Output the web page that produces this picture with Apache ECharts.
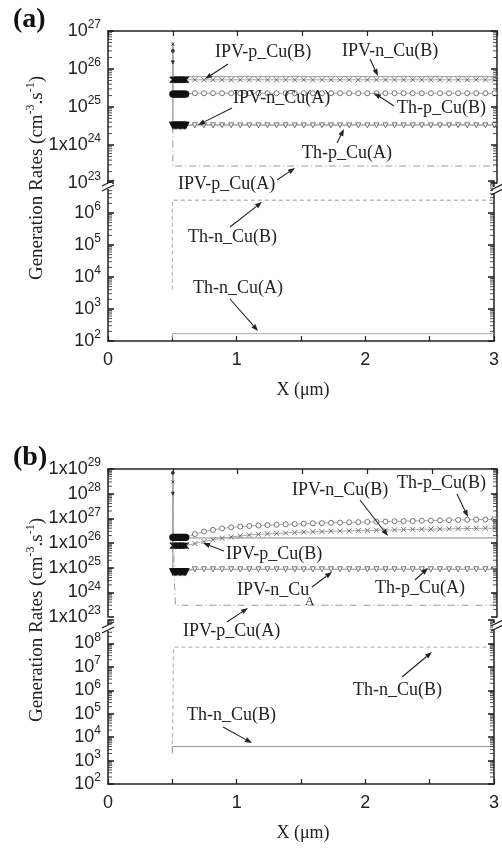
<!DOCTYPE html>
<html><head><meta charset="utf-8">
<script src="https://cdn.jsdelivr.net/npm/echarts@6.0.0/dist/echarts.min.js"></script>
<style>html,body{margin:0;padding:0;background:#fff}#c{width:502px;height:848px}</style>
</head><body><div id="c"></div>
<script>
// ---------------- DATA ----------------
// shared sample positions (µm) of the marker curves
const xMark = [0.5, 0.5, 0.51, 0.52, 0.53, 0.54, 0.55, 0.56, 0.57, 0.58, 0.59, 0.6,
  0.67, 0.74, 0.81, 0.88, 0.95, 1.02, 1.09, 1.16, 1.23, 1.3, 1.37, 1.44, 1.51, 1.58, 1.65,
  1.72, 1.79, 1.86, 1.93, 2.0, 2.07, 2.14, 2.21, 2.28, 2.35, 2.42, 2.49, 2.56, 2.63, 2.7,
  2.77, 2.84, 2.91, 2.98];

// panel (a)
const aIpvPB = [4.5e26, 5.2e25, 5.2e25, 5.2e25, 5.2e25, 5.2e25, 5.2e25, 5.2e25, 5.2e25, 5.2e25, 5.2e25, 5.2e25,
  5.2e25, 5.2e25, 5.2e25, 5.2e25, 5.2e25, 5.2e25, 5.2e25, 5.2e25, 5.2e25, 5.2e25, 5.2e25, 5.2e25, 5.2e25, 5.2e25, 5.2e25,
  5.2e25, 5.2e25, 5.2e25, 5.2e25, 5.2e25, 5.2e25, 5.2e25, 5.2e25, 5.2e25, 5.2e25, 5.2e25, 5.2e25, 5.2e25, 5.2e25, 5.2e25,
  5.2e25, 5.2e25, 5.2e25, 5.2e25];
const aThPB = [3e26, 2.2e25, 2.2e25, 2.2e25, 2.2e25, 2.2e25, 2.2e25, 2.2e25, 2.2e25, 2.2e25, 2.2e25, 2.2e25,
  2.3e25, 2.3e25, 2.3e25, 2.3e25, 2.3e25, 2.3e25, 2.3e25, 2.3e25, 2.3e25, 2.3e25, 2.3e25, 2.3e25, 2.3e25, 2.3e25, 2.3e25,
  2.3e25, 2.3e25, 2.3e25, 2.3e25, 2.3e25, 2.3e25, 2.3e25, 2.3e25, 2.3e25, 2.3e25, 2.3e25, 2.3e25, 2.3e25, 2.3e25, 2.3e25,
  2.3e25, 2.3e25, 2.3e25, 2.3e25];
const aThPA = [1.5e26, 3.3e24, 3.3e24, 3.3e24, 3.3e24, 3.3e24, 3.3e24, 3.3e24, 3.3e24, 3.3e24, 3.3e24, 3.3e24,
  3.3e24, 3.3e24, 3.3e24, 3.3e24, 3.3e24, 3.3e24, 3.3e24, 3.3e24, 3.3e24, 3.3e24, 3.3e24, 3.3e24, 3.3e24, 3.3e24, 3.3e24,
  3.3e24, 3.3e24, 3.3e24, 3.3e24, 3.3e24, 3.3e24, 3.3e24, 3.3e24, 3.3e24, 3.3e24, 3.3e24, 3.3e24, 3.3e24, 3.3e24, 3.3e24,
  3.3e24, 3.3e24, 3.3e24, 3.3e24];
const xLine = [0.5, 0.5, 3.0];
const aIpvNB = [5e26, 6.3e25, 6.3e25];
const aIpvNA = [5e26, 3.4e24, 3.4e24];
const aIpvPA = [5e26, 2.8e23, 2.8e23];
const aThNB = [4e3, 2.5e6, 2.5e6];
const aThNA = [1.2e2, 1.7e2, 1.7e2];

// panel (b)
const bThPB = [7e28, 1.7e26, 1.7e26, 1.7e26, 1.7e26, 1.7e26, 1.7e26, 1.7e26, 1.7e26, 1.7e26, 1.7e26, 1.7e26,
  2.3e26, 2.9e26, 3.4e26, 3.9e26, 4.3e26, 4.6e26, 4.9e26, 5.1e26, 5.3e26, 5.5e26, 5.7e26, 5.9e26, 6.1e26, 6.3e26, 6.4e26,
  6.6e26, 6.7e26, 6.9e26, 7.0e26, 7.2e26, 7.3e26, 7.4e26, 7.6e26, 7.7e26, 7.8e26, 8.0e26, 8.1e26, 8.3e26, 8.4e26, 8.6e26,
  8.7e26, 8.9e26, 9.0e26, 9.2e26];
const bIpvPB = [3e28, 7.8e25, 7.8e25, 7.8e25, 7.8e25, 7.8e25, 7.8e25, 7.8e25, 7.8e25, 7.8e25, 7.8e25, 7.8e25,
  9.5e25, 1.15e26, 1.35e26, 1.55e26, 1.75e26, 1.95e26, 2.1e26, 2.25e26, 2.35e26, 2.45e26, 2.55e26, 2.65e26, 2.75e26, 2.85e26, 2.9e26,
  3.0e26, 3.05e26, 3.1e26, 3.2e26, 3.25e26, 3.3e26, 3.35e26, 3.4e26, 3.5e26, 3.55e26, 3.6e26, 3.65e26, 3.7e26, 3.75e26, 3.8e26,
  3.85e26, 3.9e26, 3.95e26, 4.0e26];
const bThPA = [1e28, 6.8e24, 6.8e24, 6.8e24, 6.8e24, 6.8e24, 6.8e24, 6.8e24, 6.8e24, 6.8e24, 6.8e24, 6.8e24,
  8.6e24, 8.6e24, 8.6e24, 8.6e24, 8.6e24, 8.6e24, 8.6e24, 8.6e24, 8.6e24, 8.6e24, 8.6e24, 8.6e24, 8.6e24, 8.6e24, 8.6e24,
  8.6e24, 8.6e24, 8.6e24, 8.6e24, 8.6e24, 8.6e24, 8.6e24, 8.6e24, 8.6e24, 8.6e24, 8.6e24, 8.6e24, 8.6e24, 8.6e24, 8.6e24,
  8.6e24, 8.6e24, 8.6e24, 8.6e24];
const bIpvNB = [8e28, 1.6e26, 1.6e26];
const bIpvNA = [8e28, 8.6e24, 8.6e24];
const xIpvPAb = [0.5, 0.51, 0.52, 3.0];
const bIpvPA = [8e28, 5e24, 3e23, 3e23];
const xThNB1b = [0.5, 0.51, 3.0];
const bThNB1 = [2.5e3, 7e7, 7e7];
const bThNB2 = [2e3, 4e3, 4e3];

// tick labels: prefix per decade exponent
const aUpperTicks = {23: '10', 24: '1x10', 25: '10', 26: '10', 27: '10'};
const aLowerTicks = {2: '10', 3: '10', 4: '10', 5: '10', 6: '10'};
const bUpperTicks = {23: '1x10', 24: '10', 25: '1x10', 26: '1x10', 27: '1x10', 28: '10', 29: '1x10'};
const bLowerTicks = {2: '10', 3: '10', 4: '10', 5: '10', 6: '10', 7: '10', 8: '10'};
const xTicks = [0, 1, 2, 3];

// ---------------- CHART ----------------
const SANS = 'Liberation Sans, Arial, sans-serif';
const SERIF = 'Liberation Serif, Times New Roman, serif';
const AX = '#222';

const grids = [
  {left: 108, top: 31, width: 389, height: 152},
  {left: 108, top: 181, width: 389, height: 160},
  {left: 108, top: 469, width: 389, height: 148},
  {left: 108, top: 620, width: 389, height: 164}
];

function xAx(gi, top) {
  return {
    type: 'value', gridIndex: gi, min: 0, max: 3, interval: 0.5, position: top ? 'top' : 'bottom',
    axisLine: {show: true, onZero: false, lineStyle: {color: AX, width: 1.5}},
    axisTick: {show: true, inside: true, length: 5, lineStyle: {color: AX, width: 1.2}},
    axisLabel: {show: !top, fontFamily: SANS, fontSize: 18, color: AX, margin: 10,
      formatter: v => xTicks.indexOf(v) >= 0 ? String(v) : ''},
    splitLine: {show: false}
  };
}
function yAx(gi, min, max, ticks, right) {
  return {
    type: 'log', logBase: 10, gridIndex: gi, min: min, max: max, interval: 1,
    position: right ? 'right' : 'left',
    axisLine: {show: true, onZero: false, lineStyle: {color: AX, width: 1.5}},
    axisTick: {show: true, inside: true, length: 6, lineStyle: {color: AX, width: 1.6}},
    splitLine: {show: false},
    axisLabel: right ? {show: false} : {
      show: true, margin: 7,
      formatter: v => {
        const e = Math.round(Math.log10(v));
        const p = ticks[e];
        return p ? '{b|' + p + '}{s|' + e + '}' : '';
      },
      rich: {
        b: {fontFamily: SANS, fontSize: 18, color: AX, lineHeight: 24},
        s: {fontFamily: SANS, fontSize: 12, color: AX, lineHeight: 10, verticalAlign: 'top'}
      }
    }
  };
}

const xAxis = [xAx(0, true), xAx(1, false), xAx(2, true), xAx(3, false)];
const yRanges = [[23, 27], [2, 7], [23, 29], [2, 9]];
const yAxis = [
  yAx(0, 1e23, 1e27, aUpperTicks, false), yAx(0, 1e23, 1e27, aUpperTicks, true),
  yAx(1, 1e2, 1e7, aLowerTicks, false), yAx(1, 1e2, 1e7, aLowerTicks, true),
  yAx(2, 1e23, 1e29, bUpperTicks, false), yAx(2, 1e23, 1e29, bUpperTicks, true),
  yAx(3, 1e2, 1e9, bLowerTicks, false), yAx(3, 1e2, 1e9, bLowerTicks, true)
];

const SYM_X = 'path://M0 0L10 10M10 0L0 10';
const SYM_TRI = 'path://M0 0L10 0L5 9Z';

function pairs(xs, ys) { return xs.map((x, i) => [x, ys[i]]); }
function lineS(xi, yi, xs, ys, style) {
  return {type: 'line', xAxisIndex: xi, yAxisIndex: yi, data: pairs(xs, ys), showSymbol: false,
    symbol: 'none', lineStyle: Object.assign({color: '#9a9a9a', width: 1}, style), z: 2, silent: true};
}
function markS(xi, yi, xs, ys, sym, size) {
  const data = pairs(xs, ys).map((p, i) => {
    if (i === 0) return {value: p, symbolSize: 3, itemStyle: {color: '#333', borderColor: '#333'}};
    if (i <= 11) return {value: p, symbolSize: size + 1, itemStyle: {color: '#111', borderColor: '#111', borderWidth: 1.2}};
    return p;
  });
  return {type: 'line', xAxisIndex: xi, yAxisIndex: yi, data: data, showSymbol: true, showAllSymbol: true,
    symbol: sym, symbolSize: size,
    itemStyle: {color: sym === SYM_X ? 'rgba(0,0,0,0)' : '#fff', borderColor: '#666', borderWidth: 0.9},
    lineStyle: {color: '#aaa', width: 1}, z: 3, silent: true};
}
// minor log ticks (2..9 x 10^k) on both sides of each grid, placed through the axis scale
function minorS(gi, range, right) {
  const vals = [];
  for (let k = range[0]; k < range[1]; k++) for (let m = 2; m <= 9; m++) vals.push([right ? 3 : 0, m * Math.pow(10, k)]);
  return {type: 'scatter', xAxisIndex: gi, yAxisIndex: gi * 2, data: vals, silent: true, z: 6, clip: false,
    symbol: 'rect', symbolSize: [4, 1], symbolOffset: [right ? -2 : 2, 0],
    itemStyle: {color: AX}, animation: false};
}

const series = [
  // panel (a) upper
  lineS(0, 0, xLine, aIpvPA, {type: [7, 3, 1, 3], color: '#999'}),
  lineS(0, 0, xLine, aIpvNA, {color: '#aaa'}),
  lineS(0, 0, xLine, aIpvNB, {color: '#999'}),
  markS(0, 0, xMark, aThPA, SYM_TRI, 5),
  markS(0, 0, xMark, aThPB, 'circle', 5),
  markS(0, 0, xMark, aIpvPB, SYM_X, 5),
  // panel (a) lower
  lineS(1, 2, xLine, aThNB, {type: [4, 3], color: '#bbb', width: 1.3}),
  lineS(1, 2, xLine, aThNA, {color: '#aaa'}),
  // panel (b) upper
  lineS(2, 4, xIpvPAb, bIpvPA, {type: [7, 3, 1, 3], color: '#999'}),
  lineS(2, 4, xLine, bIpvNA, {color: '#aaa'}),
  lineS(2, 4, xLine, bIpvNB, {color: '#888'}),
  markS(2, 4, xMark, bThPA, SYM_TRI, 5),
  markS(2, 4, xMark, bIpvPB, SYM_X, 5),
  markS(2, 4, xMark, bThPB, 'circle', 5),
  // panel (b) lower
  lineS(3, 6, xThNB1b, bThNB1, {type: [4, 3], color: '#bbb', width: 1.3}),
  lineS(3, 6, xLine, bThNB2, {color: '#999'})
];
for (let g = 0; g < 4; g++) { series.push(minorS(g, yRanges[g], false), minorS(g, yRanges[g], true)); }

// ---------------- ANNOTATIONS ----------------
function arrow(x1, y1, x2, y2) {
  const a = Math.atan2(y2 - y1, x2 - x1), L = 7, W = 2.6;
  const bx = x2 - L * Math.cos(a), by = y2 - L * Math.sin(a);
  return [
    {type: 'line', shape: {x1: x1, y1: y1, x2: bx, y2: by}, style: {stroke: '#222', lineWidth: 1.1}, z: 10},
    {type: 'polygon', shape: {points: [[x2, y2], [bx + W * Math.sin(a), by - W * Math.cos(a)], [bx - W * Math.sin(a), by + W * Math.cos(a)]]},
      style: {fill: '#222'}, z: 10}
  ];
}
function txt(s, x, y, size) {
  return {type: 'text', x: x, y: y, z: 10,
    style: {text: s, font: (size || 18) + 'px ' + SERIF, fill: '#222', align: 'left', verticalAlign: 'middle'}};
}
function brk(x, y) {
  return [
    {type: 'rect', shape: {x: x - 4, y: y - 3, width: 8, height: 6}, style: {fill: '#fff'}, z: 11},
    {type: 'line', shape: {x1: x - 6, y1: y, x2: x + 6, y2: y - 6}, style: {stroke: '#222', lineWidth: 1.3}, z: 12},
    {type: 'line', shape: {x1: x - 6, y1: y + 5, x2: x + 6, y2: y - 1}, style: {stroke: '#222', lineWidth: 1.3}, z: 12}
  ];
}
const anno = [
  // (a)
  ['IPV-p_Cu(B)', 215, 52, 228, 64, 205, 79],
  ['IPV-n_Cu(B)', 342, 51, 370, 59, 378, 76],
  ['IPV-n_Cu(A)', 233, 98, 232, 108, 198, 125],
  ['Th-p_Cu(B)', 397, 108, 394, 106, 374, 93],
  ['Th-p_Cu(A)', 302, 153, 337, 143, 344, 129],
  ['IPV-p_Cu(A)', 178, 184, 277, 180, 295, 168],
  ['Th-n_Cu(B)', 188, 237, 230, 227, 262, 202],
  ['Th-n_Cu(A)', 193, 288, 230, 299, 258, 331],
  // (b)
  ['IPV-n_Cu(B)', 292, 490, 360, 500, 388, 536],
  ['Th-p_Cu(B)', 397, 483, 457, 494, 468, 517],
  ['IPV-p_Cu(B)', 226, 554, 224, 551, 203, 543],
  ['Th-p_Cu(A)', 375, 588, 415, 580, 428, 568],
  ['IPV-p_Cu(A)', 183, 631, 227, 622, 248, 608],
  ['Th-n_Cu(B)', 353, 690, 402, 677, 432, 652],
  ['Th-n_Cu(B)', 187, 715, 223, 727, 252, 743],
  ['IPV-n_Cu', 237, 590, 312, 587, 332, 572]
];
let graphic = [];
anno.forEach(a => { graphic.push(txt(a[0], a[1], a[2])); graphic = graphic.concat(arrow(a[3], a[4], a[5], a[6])); });
graphic.push(txt('A', 305, 602, 13));   // subscript of IPV-n_Cu_A
// axis breaks
graphic = graphic.concat(brk(108, 186), brk(497, 190), brk(108, 628), brk(497, 626));
// titles
function ytitle(cy) {
  return {type: 'text', x: 37, y: cy, rotation: Math.PI / 2, z: 10,
    style: {text: '{a|Generation Rates (cm}{s|-3}{a|.s}{s|-1}{a|)}', align: 'center', verticalAlign: 'middle',
      rich: {a: {fontFamily: SERIF, fontSize: 19, fill: '#222', lineHeight: 24},
             s: {fontFamily: SERIF, fontSize: 12, fill: '#222', lineHeight: 12, verticalAlign: 'top'}}}};
}
graphic.push(ytitle(178), ytitle(620));
graphic.push({type: 'text', x: 303, y: 390, style: {text: 'X (μm)', font: '18px ' + SERIF, fill: '#222', align: 'center', verticalAlign: 'middle'}});
graphic.push({type: 'text', x: 303, y: 833, style: {text: 'X (μm)', font: '18px ' + SERIF, fill: '#222', align: 'center', verticalAlign: 'middle'}});
graphic.push({type: 'text', x: 13, y: 20, style: {text: '(a)', font: 'bold 28px ' + SERIF, fill: '#111', align: 'left', verticalAlign: 'middle'}});
graphic.push({type: 'text', x: 13, y: 458, style: {text: '(b)', font: 'bold 28px ' + SERIF, fill: '#111', align: 'left', verticalAlign: 'middle'}});

const chart = echarts.init(document.getElementById('c'), null, {renderer: 'canvas'});
chart.setOption({
  animation: false,
  backgroundColor: '#fff',
  grid: grids,
  xAxis: xAxis,
  yAxis: yAxis,
  series: series,
  graphic: graphic
});
</script></body></html>
